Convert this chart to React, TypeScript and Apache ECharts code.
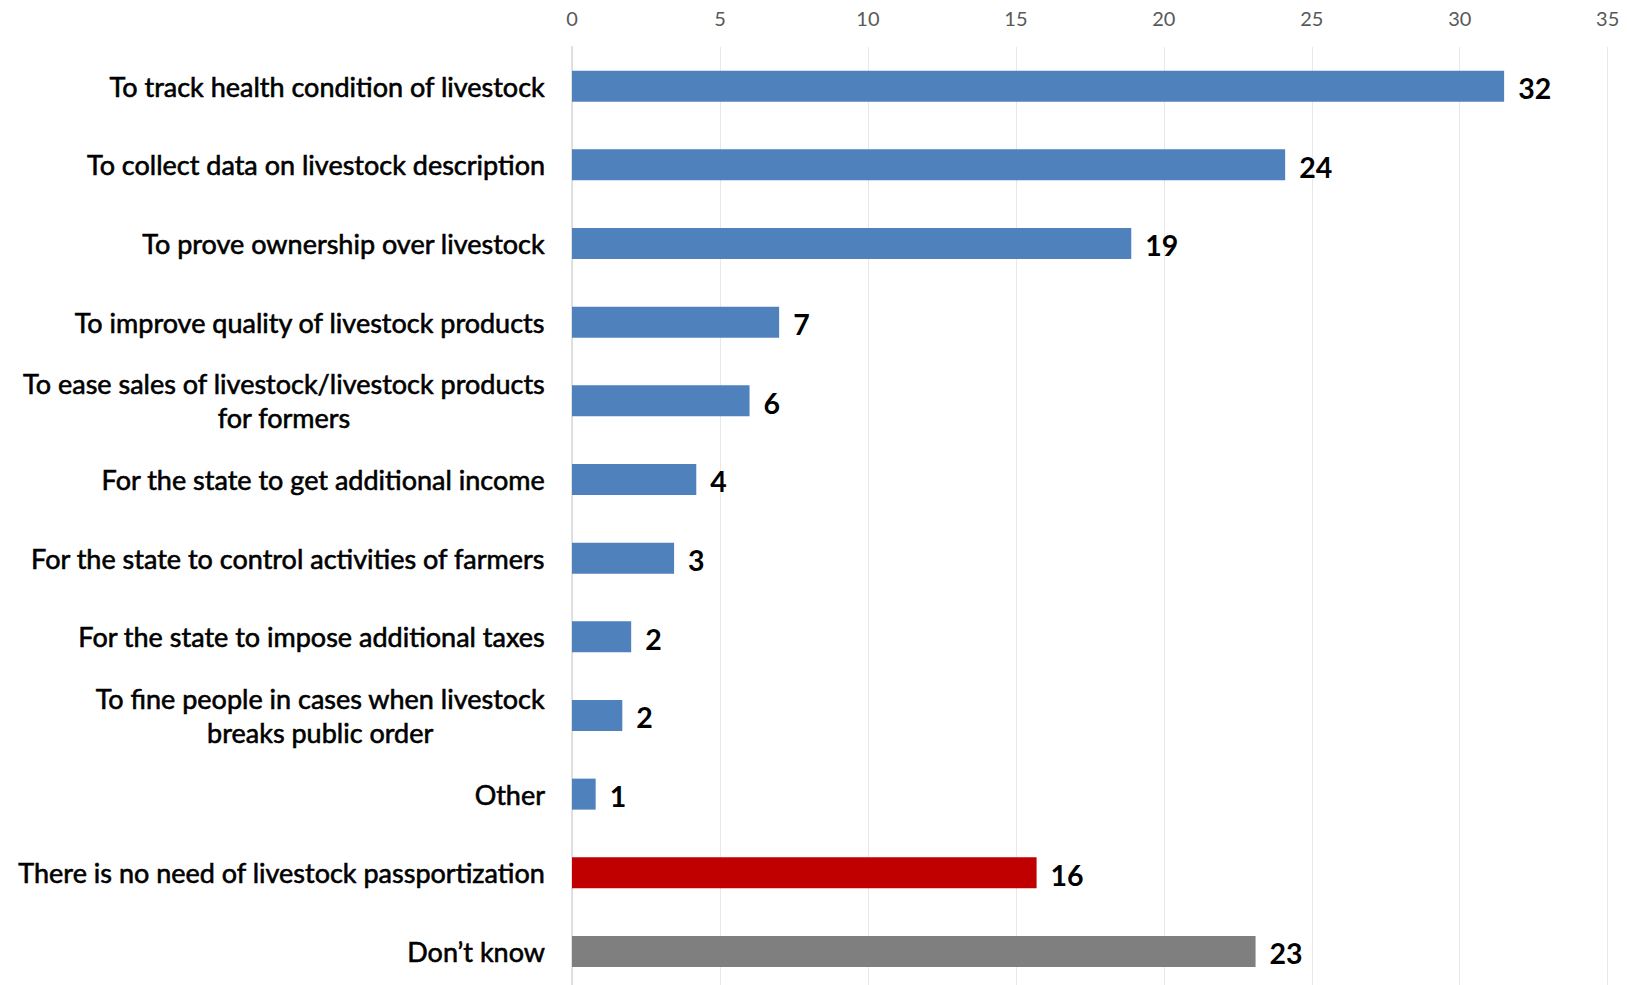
import React, { useEffect, useRef } from "react";
import * as echarts from "echarts";

const categories = [
  "To track health condition of livestock",
  "To collect data on livestock description",
  "To prove ownership over livestock",
  "To improve quality of livestock products",
  "To ease sales of livestock/livestock products\nfor formers",
  "For the state to get additional income",
  "For the state to control activities of farmers",
  "For the state to impose additional taxes",
  "To fine people in cases when livestock\nbreaks public order",
  "Other",
  "There is no need of livestock passportization",
  "Don\u2019t know",
];
const values = [31.5, 24.1, 18.9, 7.0, 6.0, 4.2, 3.45, 2.0, 1.7, 0.8, 15.7, 23.1];
const barColors = [
  "#4F81BD", "#4F81BD", "#4F81BD", "#4F81BD", "#4F81BD", "#4F81BD",
  "#4F81BD", "#4F81BD", "#4F81BD", "#4F81BD", "#C00000", "#7F7F7F",
];
const xTicks = { min: 0, max: 35, interval: 5 };

export default function App() {
  const ref = useRef<HTMLDivElement>(null);
  useEffect(() => {
    if (!ref.current) return;
    const chart = echarts.init(ref.current, undefined, { renderer: "svg" });
    const font = "Lato, 'Open Sans', sans-serif";
    chart.setOption({
      animation: false,
      backgroundColor: "#ffffff",
      grid: { left: 572, right: 19.3, top: 46.8, height: 944, containLabel: false },
      xAxis: {
        type: "value",
        position: "top",
        min: xTicks.min,
        max: xTicks.max,
        interval: xTicks.interval,
        axisLine: { show: false },
        axisTick: { show: false },
        axisLabel: { color: "#595959", fontSize: 20, fontFamily: font, margin: 19 },
        splitLine: { show: true, lineStyle: { color: "#e8e8e8", width: 1 } },
      },
      yAxis: {
        type: "category",
        inverse: true,
        data: categories,
        axisLine: { show: true, lineStyle: { color: "#d9d9d9", width: 1.5 } },
        axisTick: { show: false },
        axisLabel: {
          margin: 27,
          formatter: (v: string) => v.split("\n").map((l) => `{c|${l}}`).join("\n"),
          rich: {
            c: {
              align: "center",
              fontSize: 27,
              fontFamily: font,
              color: "#000000",
              textBorderColor: "#000000",
              textBorderWidth: 0.6,
              lineHeight: 34,
            },
          },
        },
      },
      series: [
        {
          type: "bar",
          barWidth: 31,
          data: values.map((v, i) => ({ value: v, itemStyle: { color: barColors[i] } })),
          label: {
            show: true,
            position: "right",
            distance: 14,
            offset: [0, 2],
            formatter: (p: any) => Number(p.value).toFixed(0),
            fontSize: 28.5,
            fontWeight: "bold",
            fontFamily: font,
            color: "#000000",
          },
        },
      ],
    });
    return () => chart.dispose();
  }, []);
  return (
    <div
      ref={ref}
      style={{ position: "fixed", left: 0, top: 0, width: 1627, height: 1000, background: "#fff" }}
    />
  );
}
